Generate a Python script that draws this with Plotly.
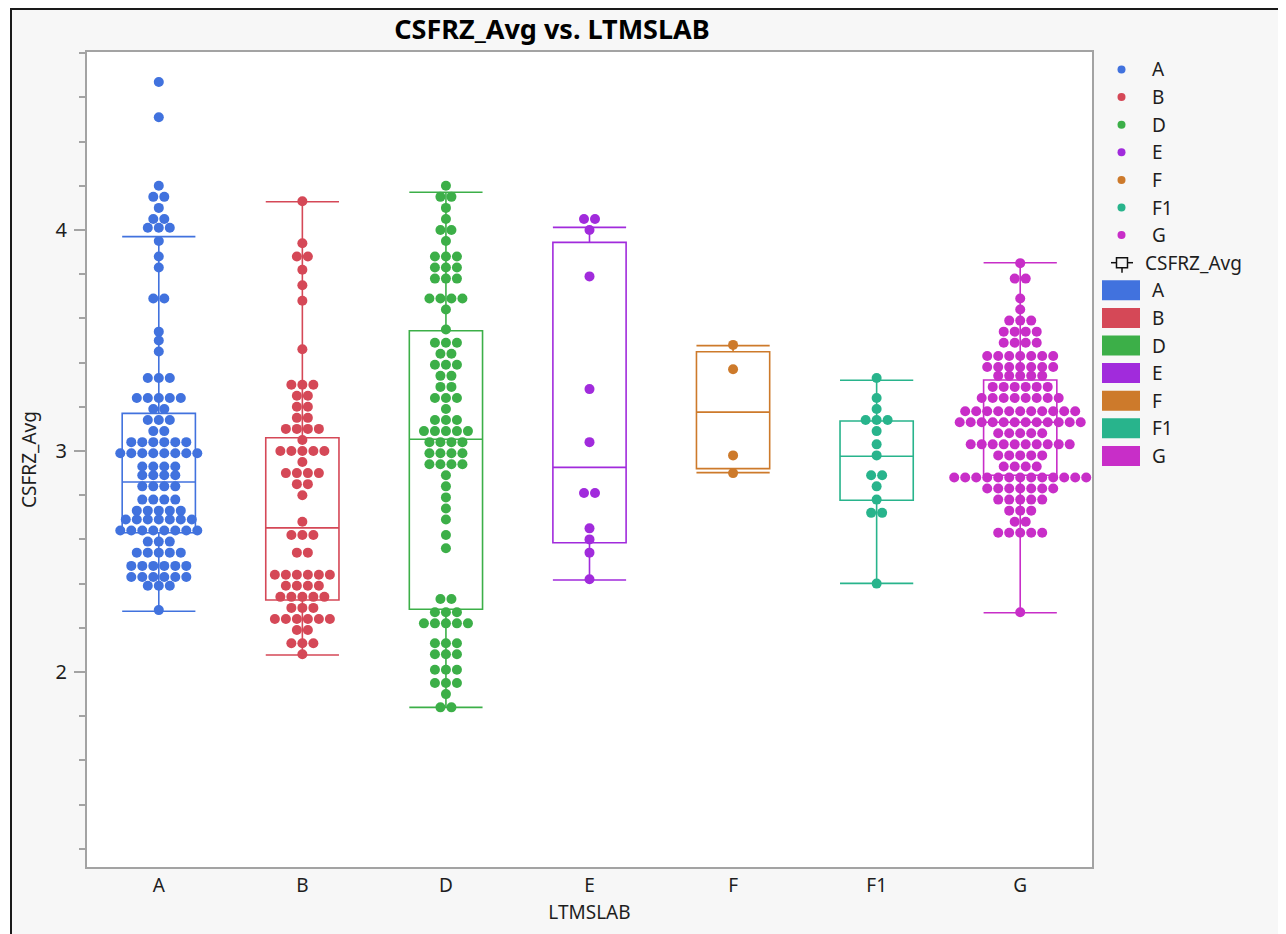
import plotly.graph_objects as go

# ---------------- data ----------------
categories = ["A", "B", "D", "E", "F", "F1", "G"]
colors = ["#4172DE", "#D54857", "#3CAF48", "#A12BDC", "#CD7A2B", "#28B48C", "#C82EC8"]

A_vals = [4.67, 4.51, 4.20, 4.15, 4.10, 4.05, 4.01, 3.95, 3.88, 3.83, 3.69, 3.54, 3.50, 3.45,
          3.33, 3.24, 3.19, 3.14, 3.09, 3.04, 2.99, 2.93, 2.89, 2.84, 2.78, 2.73, 2.69, 2.64,
          2.59, 2.54, 2.48, 2.43, 2.39, 2.28]
A_counts = [1, 1, 1, 2, 1, 2, 3, 1, 1, 1, 2, 1, 1, 1,
            3, 5, 2, 3, 2, 6, 8, 4, 4, 4, 4, 5, 7, 8,
            3, 5, 6, 6, 3, 1]

B_vals = [4.13, 3.94, 3.88, 3.82, 3.75, 3.68, 3.46, 3.30, 3.25, 3.20, 3.15, 3.10, 3.05, 3.00,
          2.95, 2.90, 2.85, 2.80, 2.68, 2.62, 2.54, 2.44, 2.39, 2.34, 2.29, 2.24, 2.19, 2.13, 2.08]
B_counts = [1, 1, 2, 1, 1, 1, 1, 3, 2, 2, 2, 4, 1, 5,
            1, 4, 2, 1, 1, 3, 2, 6, 4, 5, 3, 6, 2, 3, 1]

D_vals = [4.20, 4.15, 4.10, 4.05, 4.00, 3.95, 3.88, 3.83, 3.78, 3.69, 3.64, 3.55, 3.49, 3.44,
          3.39, 3.34, 3.29, 3.24, 3.19, 3.14, 3.09, 3.04, 2.99, 2.94, 2.89, 2.84, 2.79, 2.74,
          2.69, 2.62, 2.56, 2.33, 2.27, 2.22, 2.13, 2.08, 2.01, 1.95, 1.90, 1.84]
D_counts = [1, 2, 1, 1, 2, 1, 3, 3, 3, 4, 1, 1, 3, 2,
            3, 2, 2, 3, 1, 3, 5, 4, 4, 4, 1, 1, 1, 1,
            1, 1, 1, 2, 3, 5, 3, 3, 3, 3, 1, 2]

E_vals = [4.05, 4.00, 3.79, 3.28, 3.04, 2.81, 2.65, 2.60, 2.54, 2.42]
E_counts = [2, 1, 1, 1, 1, 2, 1, 1, 1, 1]

F_vals = [3.48, 3.37, 2.98, 2.90]
F_counts = [1, 1, 1, 1]

F1_vals = [3.33, 3.24, 3.19, 3.14, 3.09, 3.03, 2.98, 2.89, 2.84, 2.78, 2.72, 2.40]
F1_counts = [1, 1, 1, 3, 1, 1, 1, 2, 1, 1, 2, 1]

G_vals = [3.85, 3.78, 3.69, 3.64, 3.59, 3.54, 3.49, 3.43, 3.38, 3.34, 3.29, 3.24, 3.18,
          3.13, 3.08, 3.03, 2.98, 2.93, 2.88, 2.83, 2.78, 2.73, 2.68, 2.63, 2.27]
G_counts = [1, 2, 1, 1, 3, 4, 4, 7, 7, 5, 6, 8, 11,
            12, 5, 10, 5, 4, 13, 7, 5, 3, 2, 5, 1]

# box-plot statistics
box_q1 = [2.63, 2.326, 2.284, 2.585, 2.92, 2.777, 2.89]
box_median = [2.86, 2.652, 3.053, 2.926, 3.176, 2.976, 3.13]
box_q3 = [3.17, 3.06, 3.544, 3.944, 3.449, 3.136, 3.321]
box_lowerfence = [2.275, 2.077, 1.84, 2.416, 2.902, 2.401, 2.268]
box_upperfence = [3.97, 4.128, 4.171, 4.012, 3.477, 3.32, 3.852]

group_vals = [A_vals, B_vals, D_vals, E_vals, F_vals, F1_vals, G_vals]
group_counts = [A_counts, B_counts, D_counts, E_counts, F_counts, F1_counts, G_counts]

# ---------------- layout geometry (figure pixels; page has an 8px body margin) ----------------
W, H = 1278, 926
L, R, T, B = 79, 1084, 44, 859
x_range = [-0.5, 6.5]
y_range = [1.1176, 4.8054]
FONT = "Noto Sans, Open Sans, sans-serif"
TXT = "#1e1e1e"
AXC = "#a3a3a3"
FS = 19

px_per_cat = (R - L) / (x_range[1] - x_range[0])
dot_step = 11.0 / px_per_cat


def xp(px):
    return (px - L) / (R - L)


def yp(py):
    return (B - py) / (B - T)


fig = go.Figure()

# beeswarm points
for i, cat in enumerate(categories):
    xs, ys = [], []
    for v, c in zip(group_vals[i], group_counts[i]):
        for k in range(c):
            xs.append(i + (k - (c - 1) / 2) * dot_step)
            ys.append(v)
    fig.add_trace(go.Scatter(
        x=xs, y=ys, mode="markers", name=cat, showlegend=False,
        marker=dict(size=10, color=colors[i], line=dict(width=0)),
    ))

# box plots
for i, cat in enumerate(categories):
    fig.add_trace(go.Box(
        x=[i], q1=[box_q1[i]], median=[box_median[i]], q3=[box_q3[i]],
        lowerfence=[box_lowerfence[i]], upperfence=[box_upperfence[i]],
        orientation="v", width=0.51, whiskerwidth=1, boxpoints=False,
        line=dict(color=colors[i], width=1.6), fillcolor="rgba(0,0,0,0)",
        name=cat, showlegend=False,
    ))

shapes = []
annotations = []

# outer frame (white strip outside, black border)
shapes.append(dict(type="rect", xref="paper", yref="paper", x0=xp(0), x1=xp(2.5), y0=yp(H), y1=yp(0),
                   fillcolor="white", line=dict(width=0)))
shapes.append(dict(type="line", xref="paper", yref="paper", x0=xp(3), x1=xp(3), y0=yp(H), y1=yp(0),
                   line=dict(color="#1a1a1a", width=2)))
shapes.append(dict(type="line", xref="paper", yref="paper", x0=xp(2), x1=xp(W), y0=yp(1), y1=yp(1),
                   line=dict(color="#1a1a1a", width=2)))

# manual legend
leg_y0, leg_step = 61.5, 27.6
for i, cat in enumerate(categories):
    cy = leg_y0 + i * leg_step
    shapes.append(dict(type="circle", xref="paper", yref="paper",
                       x0=xp(1109.5), x1=xp(1117.5), y0=yp(cy + 4), y1=yp(cy - 4),
                       fillcolor=colors[i], line=dict(width=0)))
    annotations.append(dict(text=cat, xref="paper", yref="paper", x=xp(1142), y=yp(cy),
                            xanchor="left", yanchor="middle", showarrow=False,
                            font=dict(family=FONT, size=FS, color=TXT)))
# header with box-plot icon
hy = leg_y0 + 7 * leg_step
shapes.append(dict(type="line", xref="paper", yref="paper", x0=xp(1103), x1=xp(1125), y0=yp(hy), y1=yp(hy),
                   line=dict(color="#111111", width=1.5)))
shapes.append(dict(type="rect", xref="paper", yref="paper", x0=xp(1108.5), x1=xp(1119.5),
                   y0=yp(hy + 5), y1=yp(hy - 5), fillcolor="#f7f7f7", line=dict(color="#111111", width=1.5)))
shapes.append(dict(type="line", xref="paper", yref="paper", x0=xp(1114), x1=xp(1114), y0=yp(hy + 10), y1=yp(hy + 5),
                   line=dict(color="#111111", width=1.5)))
annotations.append(dict(text="CSFRZ_Avg", xref="paper", yref="paper", x=xp(1135), y=yp(hy),
                        xanchor="left", yanchor="middle", showarrow=False,
                        font=dict(family=FONT, size=FS, color=TXT)))
for i, cat in enumerate(categories):
    cy = leg_y0 + (8 + i) * leg_step
    shapes.append(dict(type="rect", xref="paper", yref="paper",
                       x0=xp(1094), x1=xp(1132), y0=yp(cy + 10), y1=yp(cy - 10),
                       fillcolor=colors[i], line=dict(width=0)))
    annotations.append(dict(text=cat, xref="paper", yref="paper", x=xp(1142), y=yp(cy),
                            xanchor="left", yanchor="middle", showarrow=False,
                            font=dict(family=FONT, size=FS, color=TXT)))

fig.update_layout(
    width=W, height=H,
    margin=dict(l=L, r=W - R, t=T, b=H - B, pad=0),
    paper_bgcolor="#f7f7f7", plot_bgcolor="white",
    font=dict(family=FONT, size=FS, color=TXT),
    title=dict(text="<b>CSFRZ_Avg vs. LTMSLAB</b>", x=544 / W, xref="container", xanchor="center",
               y=1 - 22 / H, yref="container", yanchor="middle",
               font=dict(family=FONT, size=27, color="#000000")),
    shapes=shapes, annotations=annotations,
    showlegend=False,
    xaxis=dict(range=x_range, tickvals=list(range(len(categories))), ticktext=categories,
               ticks="",
               showline=True, linecolor=AXC, linewidth=2, mirror=True,
               showgrid=False, zeroline=False,
               tickfont=dict(family=FONT, size=FS, color=TXT),
               title=dict(text="LTMSLAB", standoff=9, font=dict(family=FONT, size=FS, color=TXT))),
    yaxis=dict(range=y_range, tickvals=[2, 3, 4], ticktext=["2", "3", "4"],
               ticks="outside", ticklen=11, tickwidth=1.5, tickcolor=AXC,
               ticklabelstandoff=3,
               showline=True, linecolor=AXC, linewidth=2, mirror=True,
               showgrid=False, zeroline=False,
               minor=dict(dtick=0.2, tick0=0, ticks="outside", ticklen=6, tickwidth=1.5,
                          tickcolor=AXC, showgrid=False),
               tickfont=dict(family=FONT, size=20, color=TXT),
               title=dict(text="CSFRZ_Avg", standoff=14, font=dict(family=FONT, size=FS, color=TXT))),
)

fig.write_html("out.html")
